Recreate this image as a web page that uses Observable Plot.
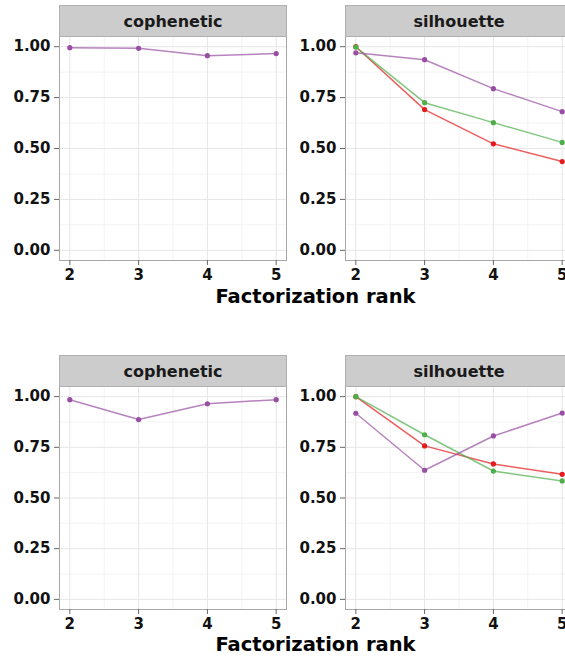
<!DOCTYPE html>
<html><head><meta charset="utf-8">
<script src="https://cdn.jsdelivr.net/npm/d3@7"></script>
<script src="https://cdn.jsdelivr.net/npm/@observablehq/plot@0.6"></script>
<style>
html,body{margin:0;padding:0;background:#fff;overflow:hidden;width:565px;height:659px}
.block{position:relative;width:575px}
.block svg{display:block}
.xtitle{position:absolute;left:59px;width:513px;text-align:center;font-family:"DejaVu Sans",sans-serif;font-weight:bold;font-size:19.5px;line-height:22px;color:#000}
</style></head><body>
<div id="b1" class="block"></div>
<div id="b2" class="block"></div>
<script>
const ranks = [2, 3, 4, 5];
const measures = ["cophenetic", "silhouette"];
const seriesNames = ["Basis", "Coefficients", "Consensus"];
const seriesColors = ["#E41A1C", "#4DAF4A", "#984EA3"];
const yTicks = [0, 0.25, 0.5, 0.75, 1];
const xAxisLabel = "Factorization rank";

// run 1 (top)
const run1Cophenetic = [0.995, 0.992, 0.956, 0.966];
const run1SilBasis = [1.000, 0.691, 0.523, 0.436];
const run1SilCoef = [0.998, 0.725, 0.627, 0.530];
const run1SilConsensus = [0.970, 0.936, 0.794, 0.681];
// run 2 (bottom)
const run2Cophenetic = [0.985, 0.887, 0.965, 0.985];
const run2SilBasis = [1.000, 0.757, 0.668, 0.617];
const run2SilCoef = [1.000, 0.812, 0.633, 0.584];
const run2SilConsensus = [0.918, 0.637, 0.806, 0.919];

function rowsFor(coph, basis, coef, cons) {
  const out = [];
  const add = (measure, series, vals) => vals.forEach((v, i) => out.push({measure, series, rank: ranks[i], value: v}));
  add("cophenetic", "Consensus", coph);
  add("silhouette", "Basis", basis);
  add("silhouette", "Coefficients", coef);
  add("silhouette", "Consensus", cons);
  return out;
}

const minorY = d3.pairs(yTicks).map(([a, b]) => (a + b) / 2);
const minorX = d3.pairs(ranks).map(([a, b]) => (a + b) / 2);

function makePlot(rows, {height, marginTop, marginBottom}) {
  const panelH = height - marginTop - marginBottom;
  return Plot.plot({
    width: 575, height, marginLeft: 59, marginRight: 3, marginTop, marginBottom,
    style: {fontFamily: "DejaVu Sans, sans-serif", background: "white", overflow: "visible"},
    fx: {domain: measures, paddingInner: 59 / 286, paddingOuter: 0, axis: null, label: null},
    x: {domain: [1.85, 5.15], axis: null},
    y: {domain: [-0.05, 1.05], axis: null},
    color: {domain: seriesNames, range: seriesColors},
    marks: [
      Plot.gridY(minorY, {stroke: "#f3f3f3", strokeOpacity: 1}),
      Plot.gridX(minorX, {stroke: "#f3f3f3", strokeOpacity: 1}),
      Plot.gridY(yTicks, {stroke: "#e6e6e6", strokeOpacity: 1}),
      Plot.gridX(ranks, {stroke: "#e6e6e6", strokeOpacity: 1}),
      Plot.frame({stroke: "#a8a8a8"}),
      Plot.frame({fill: "#cccccc", stroke: "#b0b0b0", insetTop: -31, insetBottom: panelH}),
      Plot.text(measures, {fx: d => d, text: d => d, frameAnchor: "top", dy: -15, lineAnchor: "middle", fontSize: 16, fontWeight: "bold", fill: "#1a1a1a"}),
      Plot.axisY({ticks: yTicks, tickFormat: d3.format(".2f"), tickSize: 5, tickPadding: 4, facetAnchor: null, fontSize: 15, fontWeight: "bold", stroke: "#666", fill: "#111", label: null}),
      Plot.axisX({ticks: ranks, tickFormat: d3.format("d"), tickSize: 5, tickPadding: 4, fontSize: 15, fontWeight: "bold", stroke: "#666", fill: "#111", label: null}),
      Plot.line(rows, {fx: "measure", x: "rank", y: "value", z: "series", stroke: "series", strokeWidth: 1.5, strokeOpacity: 0.7}),
      Plot.dot(rows, {fx: "measure", x: "rank", y: "value", fill: "series", r: 2.6})
    ]
  });
}

const b1 = document.getElementById("b1");
b1.style.height = "315px";
b1.append(makePlot(rowsFor(run1Cophenetic, run1SilBasis, run1SilCoef, run1SilConsensus), {height: 315, marginTop: 36, marginBottom: 55}));
const t1 = document.createElement("div"); t1.className = "xtitle"; t1.style.top = "286px"; t1.textContent = xAxisLabel; b1.append(t1);

const b2 = document.getElementById("b2");
b2.style.height = "344px";
b2.append(makePlot(rowsFor(run2Cophenetic, run2SilBasis, run2SilCoef, run2SilConsensus), {height: 344, marginTop: 71, marginBottom: 50}));
const t2 = document.createElement("div"); t2.className = "xtitle"; t2.style.top = "319px"; t2.textContent = xAxisLabel; b2.append(t2);
</script>
</body></html>
